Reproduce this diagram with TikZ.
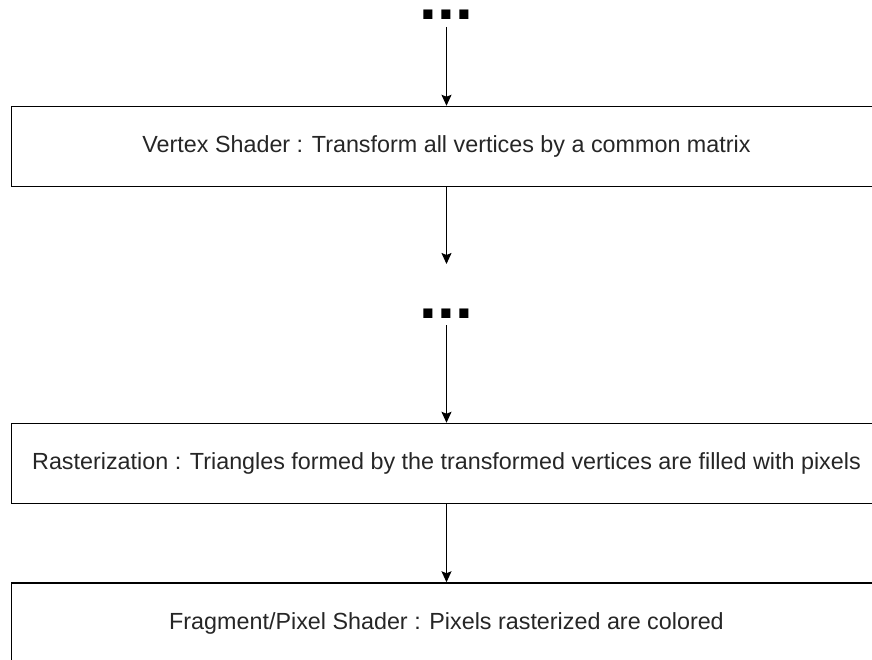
\documentclass[tikz,border=0pt]{standalone}
\usepackage{fontspec}
\setmainfont{Liberation Sans}
\usetikzlibrary{arrows.meta}
\begin{document}
\begin{tikzpicture}[x=0.75pt,y=-0.75pt,
  stage/.style={draw=black,line width=1.1pt,minimum width=870*0.75pt,minimum height=80*0.75pt,inner sep=0pt,font=\fontsize{17.5}{20}\selectfont,text=black!85},
  dots/.style={font=\fontsize{48}{50}\selectfont\bfseries,inner sep=0pt,anchor=base,text height=8pt,text depth=0pt},
  arr/.style={draw=black,line width=0.9pt,-{Stealth[length=11pt*0.75,width=10pt*0.75,inset=2pt*0.75]}}]
\useasboundingbox (0,0) rectangle (872,660);
\clip (0,0) rectangle (872,660);
\node[dots] (dots1) at (446.5,20) {...};
\node[stage] (box1) at (446.5,146.5) {Vertex Shader : Transform all vertices by a common matrix};
\coordinate (end1) at (446.5,264);
\node[dots] (dots2) at (446.5,318) {...};
\node[stage] (box2) at (446.5,463.5) {Rasterization : Triangles formed by the transformed vertices are filled with pixels};
\node[stage] (box3) at (446.5,623) {Fragment/Pixel Shader : Pixels rasterized are colored};
\draw[arr] ([yshift=-7*0.75pt]dots1.base) -- (box1.north);
\draw[arr] (box1.south) -- (end1);
\draw[arr] ([yshift=-7*0.75pt]dots2.base) -- (box2.north);
\draw[arr] (box2.south) -- (box3.north);
\end{tikzpicture}
\end{document}
